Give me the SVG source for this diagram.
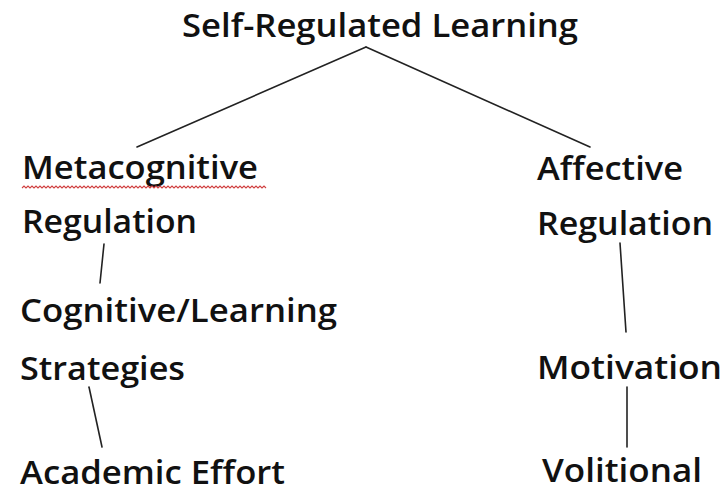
<svg xmlns="http://www.w3.org/2000/svg" width="728" height="492" viewBox="0 0 728 492">
<style>
.t{font-family:"Open Sans","Liberation Sans",sans-serif;font-size:32px;font-weight:600;fill:#111;}
.c line{stroke:#222;stroke-width:1.6;stroke-linecap:round;}
.sq{fill:none;stroke:#d04040;stroke-width:1.1;}
</style>
<rect width="728" height="492" fill="#fff"/>
<g class="c" id="connectors">
<line x1="137" y1="147" x2="366" y2="47"/>
<line x1="366" y1="47" x2="590" y2="147"/>
<line x1="104" y1="244" x2="100" y2="283"/>
<line x1="89" y1="387" x2="102" y2="447"/>
<line x1="620" y1="243" x2="626" y2="332"/>
<line x1="627" y1="387" x2="627" y2="447"/>
</g>
<g id="n-srl"><text class="t" x="182" y="37" textLength="396" lengthAdjust="spacingAndGlyphs">Self-Regulated Learning</text></g>
<g id="n-meta">
<text class="t" x="22" y="179" textLength="236" lengthAdjust="spacingAndGlyphs">Metacognitive</text>
<path class="sq" d="M22 188 l2 -2 l2 2 l2 -2 l2 2 l2 -2 l2 2 l2 -2 l2 2 l2 -2 l2 2 l2 -2 l2 2 l2 -2 l2 2 l2 -2 l2 2 l2 -2 l2 2 l2 -2 l2 2 l2 -2 l2 2 l2 -2 l2 2 l2 -2 l2 2 l2 -2 l2 2 l2 -2 l2 2 l2 -2 l2 2 l2 -2 l2 2 l2 -2 l2 2 l2 -2 l2 2 l2 -2 l2 2 l2 -2 l2 2 l2 -2 l2 2 l2 -2 l2 2 l2 -2 l2 2 l2 -2 l2 2 l2 -2 l2 2 l2 -2 l2 2 l2 -2 l2 2 l2 -2 l2 2 l2 -2 l2 2 l2 -2 l2 2 l2 -2 l2 2 l2 -2 l2 2 l2 -2 l2 2 l2 -2 l2 2 l2 -2 l2 2 l2 -2 l2 2 l2 -2 l2 2 l2 -2 l2 2 l2 -2 l2 2 l2 -2 l2 2 l2 -2 l2 2 l2 -2 l2 2 l2 -2 l2 2 l2 -2 l2 2 l2 -2 l2 2 l2 -2 l2 2 l2 -2 l2 2 l2 -2 l2 2 l2 -2 l2 2 l2 -2 l2 2 l2 -2 l2 2 l2 -2 l2 2 l2 -2 l2 2 l2 -2 l2 2 l2 -2 l2 2 l2 -2 l2 2 l2 -2 l2 2 l2 -2 l2 2 l2 -2 l2 2 l2 -2 l2 2"/>
<text class="t" x="22" y="233" textLength="175" lengthAdjust="spacingAndGlyphs">Regulation</text>
</g>
<g id="n-cog">
<text class="t" x="20" y="322" textLength="317" lengthAdjust="spacingAndGlyphs">Cognitive/Learning</text>
<text class="t" x="20" y="380" textLength="165" lengthAdjust="spacingAndGlyphs">Strategies</text>
</g>
<g id="n-acad"><text class="t" x="20" y="484" textLength="265" lengthAdjust="spacingAndGlyphs">Academic Effort</text></g>
<g id="n-aff">
<text class="t" x="537" y="180" textLength="146" lengthAdjust="spacingAndGlyphs">Affective</text>
<text class="t" x="537" y="235" textLength="176" lengthAdjust="spacingAndGlyphs">Regulation</text>
</g>
<g id="n-mot"><text class="t" x="537" y="379" textLength="185" lengthAdjust="spacingAndGlyphs">Motivation</text></g>
<g id="n-vol"><text class="t" x="542" y="482" textLength="160" lengthAdjust="spacingAndGlyphs">Volitional</text></g>
</svg>
